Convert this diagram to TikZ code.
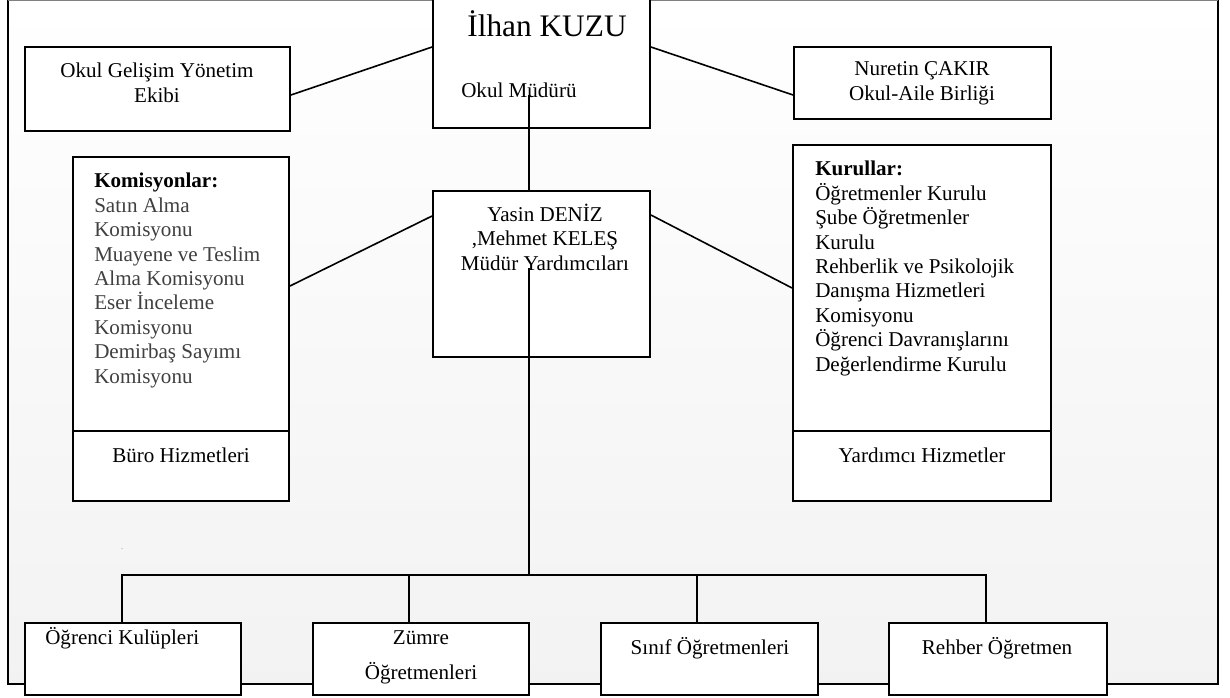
\documentclass[tikz,border=0pt]{standalone}
\usepackage{fontspec}
\setmainfont{Liberation Serif}
\definecolor{komgray}{HTML}{404040}
\begin{document}
\begin{tikzpicture}[x=0.75pt,y=-0.75pt,
  box/.style={draw=black, fill=white, line width=1.4pt, inner sep=0pt},
  lbl/.style={inner sep=0pt, font=\fontsize{15.8}{18.3}\selectfont},
  conn/.style={line width=1.2pt}]
\useasboundingbox (0,0) rectangle (1230,697);
% frame with gradient
\shade[top color=white,bottom color=gray!10] (8,0) rectangle (1218,684);
\draw[line width=1.9pt] (8,0) -- (8,684) -- (1218,684) -- (1218,0);
\draw[gray,line width=1pt] (8,0.5) -- (1218,0.5);

% boxes
\node[box, minimum width=162.75pt, minimum height=103.5pt] (ilhan) at (541.5,59) {};
\node[box, minimum width=198.75pt, minimum height=63pt] (og) at (157.5,89) {};
\node[box, minimum width=192.75pt, minimum height=54pt] (nur) at (922.5,83) {};
\node[box, minimum width=162.75pt, minimum height=124.5pt] (yasin) at (541.5,274) {};
\node[box, minimum width=162pt, minimum height=205.5pt] (kom) at (181,294) {};
\node[box, minimum width=162pt, minimum height=52.5pt] (buro) at (181,466) {};
\node[box, minimum width=193.5pt, minimum height=214.5pt] (kur) at (922,288) {};
\node[box, minimum width=193.5pt, minimum height=52.5pt] (yard) at (922,466) {};
\node[box, minimum width=162pt, minimum height=54pt] (ogr) at (133,659) {};
\node[box, minimum width=162pt, minimum height=54pt] (zum) at (421,659) {};
\node[box, minimum width=162.75pt, minimum height=54pt] (sin) at (709.5,659) {};
\node[box, minimum width=163.5pt, minimum height=54pt] (reh) at (998,659) {};

% connectors
\coordinate (mstart) at (529,95);
\coordinate (ystart) at (529,268);
\coordinate (bus) at (529,575);
\draw[conn] ([yshift=-4.5pt]og.east) -- ([yshift=9pt]ilhan.west);
\draw[conn] ([yshift=9pt]ilhan.east) -- ([yshift=-9pt]nur.west);
\draw[conn] ([yshift=6pt]kom.east) -- ([yshift=43.5pt]yasin.west);
\draw[conn] ([yshift=44.25pt]yasin.east) -- (kur.west);
\draw[conn] (mstart) -- (mstart |- yasin.north);
\draw[conn] (ystart) -- (bus);
\draw[conn] ([xshift=-8.25pt]ogr.north) |- (bus);
\draw[conn] ([xshift=-9pt]zum.north) |- (bus);
\draw[conn] ([xshift=-9.4pt]sin.north) |- (bus);
\draw[conn] ([xshift=-9pt]reh.north) |- (bus);

% texts (multi-line nodes: base = baseline of last line)
\node[lbl, font=\fontsize{23.5}{28}\selectfont, anchor=base] (ilhanname) at (547,36) {İlhan KUZU};
\node[lbl, anchor=base west] (ilhanrole) at (461,97) {Okul Müdürü};
\node[lbl, align=center, anchor=base] (ogtext) at (157,102) {Okul Gelişim Yönetim\\Ekibi};
\node[lbl, align=center, anchor=base] (nurtext) at (922,100) {Nuretin ÇAKIR\\Okul-Aile Birliği};
\node[lbl, align=center, anchor=base] (yasintext) at (545,270) {Yasin DENİZ\\,Mehmet KELEŞ\\Müdür Yardımcıları};
\node[lbl, align=left, anchor=base west] (komtext) at (94,383) {\textbf{Komisyonlar:}\\
  \textcolor{komgray}{Satın Alma}\\
  \textcolor{komgray}{Komisyonu}\\
  \textcolor{komgray}{Muayene ve Teslim}\\
  \textcolor{komgray}{Alma Komisyonu}\\
  \textcolor{komgray}{Eser İnceleme}\\
  \textcolor{komgray}{Komisyonu}\\
  \textcolor{komgray}{Demirbaş Sayımı}\\
  \textcolor{komgray}{Komisyonu}};
\node[lbl, align=left, anchor=base west] (kurtext) at (815,371) {\textbf{Kurullar:}\\
  Öğretmenler Kurulu\\
  Şube Öğretmenler\\
  Kurulu\\
  Rehberlik ve Psikolojik\\
  Danışma Hizmetleri\\
  Komisyonu\\
  Öğrenci Davranışlarını\\
  Değerlendirme Kurulu};
\node[lbl, anchor=base] (burotext) at (181,462) {Büro Hizmetleri};
\node[lbl, anchor=base] (yardtext) at (922,462) {Yardımcı Hizmetler};
\node[lbl, anchor=base west] (ogrtext) at (45,644) {Öğrenci Kulüpleri};
\node[lbl, align=center, anchor=base, font=\fontsize{15.8}{26}\selectfont] (zumtext) at (421,679) {Zümre\\Öğretmenleri};
\node[lbl, anchor=base] (sintext) at (710,654) {Sınıf Öğretmenleri};
\node[lbl, anchor=base] (rehtext) at (997,654) {Rehber Öğretmen};
\node[inner sep=0pt, text=gray, font=\fontsize{6}{7}\selectfont, anchor=base] (dot) at (122,549) {.};
\end{tikzpicture}
\end{document}
